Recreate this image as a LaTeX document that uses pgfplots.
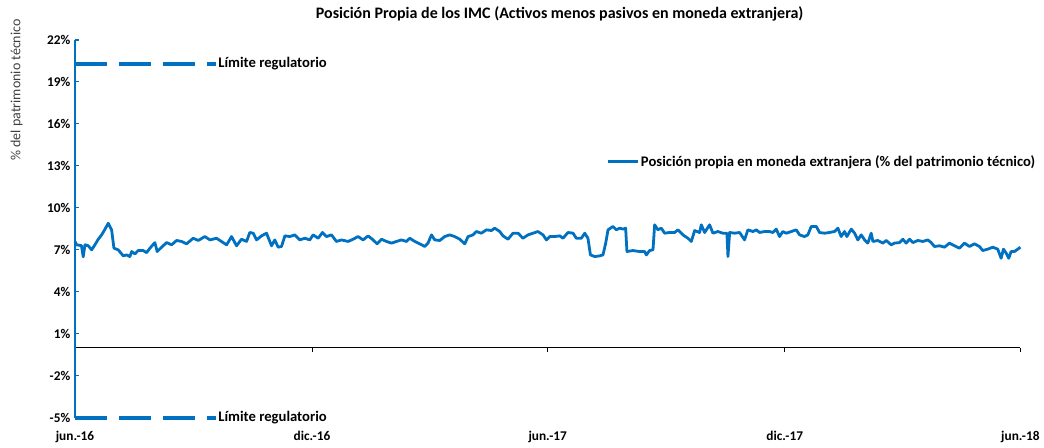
\documentclass[border=0pt]{standalone}
\usepackage{fontspec}
\setmainfont{Carlito}
\usepackage{pgfplots}
\pgfplotsset{compat=1.18}
\definecolor{serie}{HTML}{0070C0}
\begin{document}
\begin{tikzpicture}
\begin{axis}[
  scale only axis,
  width=709.5pt, height=283.5pt,
  xmin=0, xmax=730, ymin=-5, ymax=22,
  axis x line*=middle, axis y line*=left,
  hide obscured x ticks=false,
  clip=false,
  x axis line style={black, line width=0.6pt},
  y axis line style={serie, line width=1pt},
  xtick={0,183,365,548,730},
  xticklabels={jun.-16,dic.-16,jun.-17,dic.-17,jun.-18},
  xtick align=outside,
  ytick={-5,-2,1,4,7,10,13,16,19,22},
  yticklabel={\pgfmathprintnumber{\tick}\%},
  ytick align=inside,
  major tick length=3pt,
  x tick style={black, line width=0.6pt},
  y tick style={serie, line width=0.8pt},
  tick label style={font=\bfseries\fontsize{10}{12}\selectfont, text=black},
  xticklabel style={yshift=-56pt},
  /pgf/number format/assume math mode=true,
  legend style={at={(axis cs:410.5,13.3)}, anchor=west, draw=none, fill=none,
    inner sep=0pt, font=\bfseries\fontsize{11}{13}\selectfont,
    nodes={inner sep=1pt}},
  legend image code/.code={\draw[#1] (0pt,0pt) -- (22.5pt,0pt);},
]
\addplot[serie, line width=2.1pt, line join=round] table {
x y
0 7.6
1.3 7.36
5 7.3
6.4 6.5
7.7 7.36
10.3 7.29
12.9 7.0
15.4 7.36
18 7.76
20.6 8.07
23.2 8.48
25.7 8.9
28.3 8.43
30.1 7.12
33.4 7.0
37.3 6.57
39.9 6.64
42.4 6.52
43.8 6.88
46.3 6.71
48.8 6.95
52.7 6.95
55.3 6.8
57.9 7.12
61.7 7.52
63.5 6.88
66.9 7.19
70.8 7.52
74.6 7.36
78.5 7.67
82.3 7.6
86.2 7.43
91.3 7.83
95.2 7.67
100.3 7.95
104.2 7.71
109.3 7.83
114.4 7.52
117.1 7.36
120.9 7.95
124.8 7.29
128.6 7.76
132.5 7.6
135 8.24
137.6 8.19
140.2 7.71
144.1 8.0
147.9 8.19
151.8 7.29
154.3 7.71
156.9 7.19
159.5 7.24
162.1 8.0
165.9 7.95
169.8 8.07
173.6 7.71
177.5 7.83
181.3 7.71
183.9 8.07
187.8 7.83
191.1 8.24
194.2 7.95
198.1 8.07
201.9 7.6
205.8 7.71
210.9 7.6
214.8 7.76
218.6 7.95
222.5 7.71
226.3 8.0
230.2 7.71
233.3 7.43
236.7 7.76
240.5 7.6
244.4 7.48
248.3 7.6
252.1 7.71
256 7.6
258.5 7.83
262.4 7.6
266.2 7.43
270.1 7.24
272.6 7.48
275.3 8.07
277.8 7.71
281.7 7.67
285.5 7.95
289.4 8.07
293.2 7.95
297.1 7.76
301 7.43
303.5 7.95
307.4 8.07
310 8.31
313.8 8.19
317.7 8.43
321.6 8.38
324.1 8.55
328 8.31
330.5 8.0
334.4 7.76
338.2 8.19
342.1 8.19
345.9 7.83
349.8 8.07
353.7 8.19
357.5 8.31
361.4 8.07
364 7.71
366.6 7.95
370.4 7.95
374.3 8.0
376.8 7.83
380.7 8.24
384.6 8.19
387.1 7.83
391 7.83
393.6 8.19
396.1 7.83
398 6.64
401.3 6.52
405.1 6.57
407.7 6.64
409.8 7.48
411.6 8.43
415.4 8.67
418 8.43
420.6 8.55
423.1 8.48
425.2 8.55
426.2 6.88
430.8 6.95
436 6.88
439.9 6.88
441.2 6.64
443.7 6.95
446.3 7.0
447.6 8.79
450.1 8.43
452.7 8.55
455.3 8.19
459.2 8.24
463 8.24
465.6 8.43
469.4 8.07
473.3 7.83
475.9 7.6
478.5 8.38
482.3 8.24
483.6 8.79
486.2 8.24
490 8.79
492.6 8.19
496.4 8.31
500.3 8.19
503.4 8.19
504.2 6.52
505.5 8.24
509.3 8.19
513.2 8.24
517 7.71
519.6 8.43
523.5 8.31
526.1 8.43
528.6 8.24
532.5 8.31
536.3 8.31
538.9 8.24
541.5 8.48
544 7.95
546.6 8.31
549.2 8.19
553.1 8.31
556.9 8.43
559.5 8.07
563.3 7.95
565.9 8.07
568.5 8.67
572.4 8.67
574.9 8.24
578.8 8.19
582.6 8.24
586.5 8.31
589.1 8.55
591.6 7.95
594.2 8.31
596 7.95
599.4 8.48
602 8.19
604.5 7.71
607.1 8.07
609.7 7.71
612.2 7.48
614.8 8.19
616.1 7.6
619.9 7.67
623.8 7.48
626.4 7.67
630.2 7.36
632.8 7.48
636.7 7.52
639.2 7.76
641.8 7.48
644.4 7.76
647 7.52
650.8 7.67
654.6 7.6
658.5 7.71
661.1 7.52
663.6 7.24
667.5 7.29
671.4 7.19
675.2 7.48
679.1 7.29
682.9 7.12
686.8 7.48
690.7 7.24
694.5 7.43
698.4 7.24
700.9 6.95
704.8 7.05
708.7 7.19
712.5 7.05
715.1 6.4
716.9 7.05
719 6.76
721 6.4
722.8 6.88
725.4 6.88
728 7.05
730 7.19
};
\addlegendentry{Posición propia en moneda extranjera (\% del patrimonio técnico)}
\addplot[serie, line width=3pt, dash pattern=on 24pt off 9pt, forget plot] coordinates {(0,20.3) (109,20.3)};
\addplot[serie, line width=3pt, dash pattern=on 24pt off 9pt, forget plot] coordinates {(0,-5) (109,-5)};
\node[anchor=west, inner sep=1pt, font=\bfseries\fontsize{11}{13}\selectfont] at (axis cs:109.5,20.3) {Límite regulatorio};
\node[anchor=west, inner sep=1pt, font=\bfseries\fontsize{11}{13}\selectfont] at (axis cs:109.5,-5) {Límite regulatorio};
\end{axis}
\node[font=\bfseries\fontsize{12}{14}\selectfont] at ([shift={(363.75pt,303pt)}]current axis.south west) {Posición Propia de los IMC (Activos menos pasivos en moneda extranjera)};
\node[rotate=90, text=black!75, font=\fontsize{10.5}{12}\selectfont] at ([shift={(-43.7pt,246pt)}]current axis.south west) {\% del patrimonio técnico};
\path ([shift={(-56.25pt,-22.5pt)}]current axis.south west) rectangle ([shift={(726.75pt,313.5pt)}]current axis.south west);
\end{tikzpicture}
\end{document}
